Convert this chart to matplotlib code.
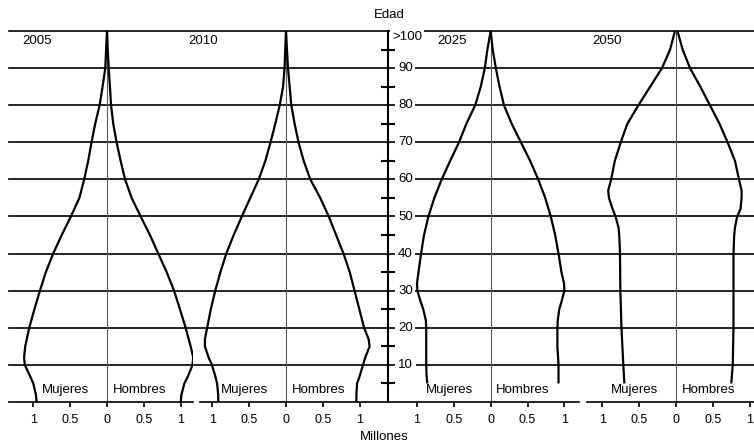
import numpy as np
import matplotlib
matplotlib.use("Agg")
import matplotlib.pyplot as plt

plt.rcParams['font.family'] = ['Liberation Sans', 'DejaVu Sans']

# ages (years) and population (millions)
ages_2005 = [0, 2, 5, 7, 10, 12, 15, 20, 25, 30, 35, 40, 45, 50, 55, 60, 65, 70, 75, 80, 85, 90, 95, 100]
muj_2005 = [0.955, 0.965, 1.0, 1.045, 1.115, 1.125, 1.11, 1.055, 0.985, 0.91, 0.83, 0.73, 0.615, 0.49,
            0.375, 0.31, 0.255, 0.21, 0.16, 0.10, 0.06, 0.023, 0.012, 0.0]
hom_2005 = [1.0, 1.01, 1.05, 1.10, 1.16, 1.17, 1.135, 1.067, 0.99, 0.91, 0.81, 0.696, 0.583, 0.457,
            0.335, 0.245, 0.185, 0.13, 0.085, 0.055, 0.04, 0.023, 0.01, 0.0]

ages_2010 = [0, 2, 5, 7, 10, 12, 15, 17, 20, 25, 30, 35, 40, 45, 50, 55, 60, 65, 70, 75, 80, 85, 90, 95, 100]
muj_2010 = [0.92, 0.92, 0.935, 0.96, 1.005, 1.05, 1.10, 1.10, 1.07, 1.02, 0.96, 0.89, 0.81, 0.71, 0.60,
            0.485, 0.37, 0.28, 0.21, 0.145, 0.085, 0.04, 0.02, 0.01, 0.0]
hom_2010 = [0.955, 0.955, 0.965, 1.0, 1.045, 1.075, 1.135, 1.12, 1.06, 0.995, 0.93, 0.865, 0.78, 0.68, 0.58,
            0.465, 0.33, 0.24, 0.17, 0.117, 0.072, 0.05, 0.027, 0.013, 0.0]

ages_2025 = [5, 7, 10, 15, 20, 22, 25, 27, 30, 32, 35, 40, 45, 50, 55, 60, 65, 70, 75, 80, 85, 90, 95, 100]
muj_2025 = [0.86, 0.87, 0.875, 0.875, 0.875, 0.88, 0.915, 0.95, 0.995, 1.0, 0.98, 0.945, 0.905, 0.845,
            0.765, 0.665, 0.55, 0.43, 0.33, 0.21, 0.135, 0.08, 0.045, 0.0]
hom_2025 = [0.92, 0.92, 0.92, 0.905, 0.905, 0.91, 0.93, 0.96, 1.0, 0.995, 0.96, 0.92, 0.875, 0.815,
            0.74, 0.645, 0.535, 0.41, 0.285, 0.18, 0.12, 0.07, 0.027, 0.0]

ages_2050 = [5, 10, 20, 30, 40, 45, 47, 50, 52, 55, 57, 60, 65, 70, 75, 80, 85, 90, 95, 100]
muj_2050 = [0.70, 0.715, 0.74, 0.755, 0.76, 0.77, 0.78, 0.82, 0.86, 0.91, 0.92, 0.88, 0.83, 0.75, 0.66,
            0.51, 0.35, 0.19, 0.08, 0.014]
hom_2050 = [0.75, 0.77, 0.78, 0.78, 0.78, 0.79, 0.80, 0.83, 0.875, 0.89, 0.89, 0.855, 0.80, 0.70, 0.59,
            0.46, 0.33, 0.19, 0.09, 0.02]

years = ['2005', '2010', '2025', '2050']
mujeres = [muj_2005, muj_2010, muj_2025, muj_2050]
hombres = [hom_2005, hom_2010, hom_2025, hom_2050]
age_sets = [ages_2005, ages_2010, ages_2025, ages_2050]

x_ticks = [-1, -0.5, 0, 0.5, 1]
x_tick_labels = ['1', '0.5', '0', '0.5', '1']
age_labels = ['10', '20', '30', '40', '50', '60', '70', '80', '90', '>100']

W, H = 754, 444
S = 73.7  # pixels per million
fig = plt.figure(figsize=(W / 100, H / 100), dpi=100)


def px_axes(left, right, top=31, bot=402):
    return fig.add_axes([left / W, (H - bot) / H, (right - left) / W, (bot - top) / H])


def px_text(x, y, s, **kw):
    fig.text(x / W, 1 - y / H, s, fontsize=9.5, **kw)


# horizontal grid across the whole figure
bg = px_axes(9, 754)
bg.set_xlim(0, 1)
bg.set_ylim(0, 100)
bg.axis('off')
for a in range(10, 101, 10):
    bg.axhline(a, color='black', lw=1.2, clip_on=False)

# (left px, right px, centre px) of each panel
panels = [(9, 193, 107), (200, 388, 286), (388, 579, 490.7), (587, 754, 676)]
year_x = [22.7, 188, 437.7, 592.7]

for i, (l, r, c) in enumerate(panels):
    ax = px_axes(l, r)
    ax.set_xlim((l - c) / S, (r - c) / S)
    ax.set_ylim(0, 100)
    ax.patch.set_visible(False)
    for sp in ['top', 'right', 'left']:
        ax.spines[sp].set_visible(False)
    ax.spines['bottom'].set_linewidth(1.2)
    ax.set_xticks(x_ticks)
    ax.set_xticklabels(x_tick_labels, fontsize=9)
    ax.tick_params(axis='x', direction='out', length=3.5, width=1.2, pad=5)
    ax.set_yticks([])
    ax.axvline(0, color='0.35', lw=0.8)
    ages = np.array(age_sets[i])
    ax.plot(-np.array(mujeres[i]), ages, color='black', lw=1.6,
            solid_joinstyle='round', solid_capstyle='butt')
    ax.plot(np.array(hombres[i]), ages, color='black', lw=1.6,
            solid_joinstyle='round', solid_capstyle='butt')
    px_text(year_x[i], 41, years[i], ha='left', va='center')
    px_text(c - 18, 390, 'Mujeres', ha='right', va='center')
    px_text(c + 5.5, 390, 'Hombres', ha='left', va='center')
    if i == 2:
        # central age axis
        ax.spines['left'].set_visible(True)
        ax.spines['left'].set_linewidth(1.5)
        ax.set_yticks(range(5, 100, 10))
        ax.tick_params(axis='y', direction='inout', length=10, width=1.5, labelleft=False)
        for k, lab in enumerate(age_labels):
            a = (k + 1) * 10
            y = 402 - a * 3.71
            if lab == '>100':
                px_text(392, y + 6, lab, ha='left', va='center', zorder=5,
                        bbox=dict(boxstyle='square,pad=0.15', fc='white', ec='none'))
            else:
                px_text(398, y, lab, ha='left', va='center', zorder=5,
                        bbox=dict(boxstyle='square,pad=0.2', fc='white', ec='none'))

px_text(374, 15, 'Edad', ha='left', va='center')
px_text(384, 437, 'Millones', ha='center', va='center')

fig.savefig('out.png', dpi=100)
